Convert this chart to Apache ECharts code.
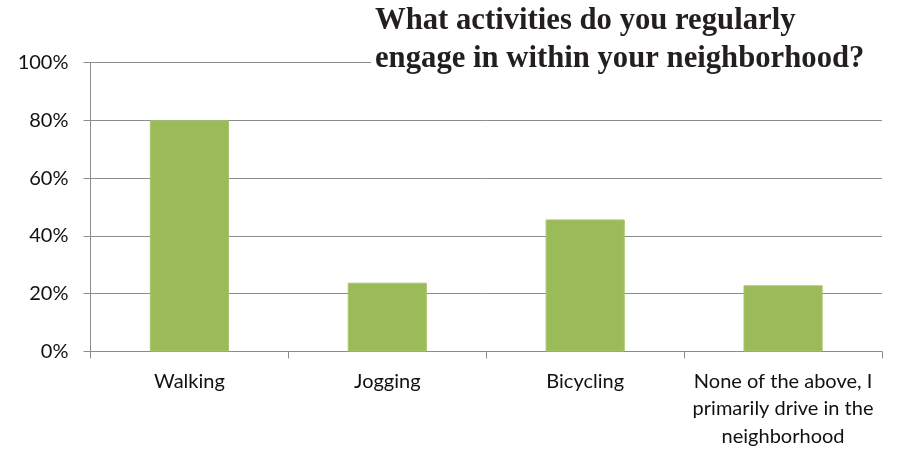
<!DOCTYPE html>
<html>
<head>
<meta charset="utf-8">
<script src="https://cdn.jsdelivr.net/npm/echarts@6/dist/echarts.min.js"></script>
<style>html,body{margin:0;padding:0;background:#fff}#c{width:899px;height:452px}</style>
</head>
<body>
<div id="c"></div>
<script>
const titleText = "What activities do you regularly\nengage in within your neighborhood?";
const categories = ["Walking", "Jogging", "Bicycling", "None of the above, I\nprimarily drive in the\nneighborhood"];
const values = [80, 23.8, 45.7, 22.9];
const yTicks = [0, 20, 40, 60, 80, 100];

const chart = echarts.init(document.getElementById('c'));
chart.setOption({
  animation: false,
  backgroundColor: '#fff',
  title: {
    text: titleText,
    left: 371, top: 0,
    padding: [2, 120, 4, 4],
    backgroundColor: '#fff',
    textStyle: {fontFamily: 'Liberation Serif', fontWeight: 'bold', fontSize: 30.7, lineHeight: 38, color: '#231f20'}
  },
  grid: {left: 90.5, right: 17, top: 62.5, bottom: 100.5, containLabel: false},
  xAxis: {
    type: 'category', data: categories,
    axisLine: {lineStyle: {color: '#8c8c8c', width: 1}},
    axisTick: {show: true, length: 7, alignWithLabel: false, lineStyle: {color: '#8c8c8c'}},
    axisLabel: {margin: 16, fontFamily: 'Lato', fontSize: 20, lineHeight: 27.5, color: '#111', interval: 0}
  },
  yAxis: {
    type: 'value', min: yTicks[0], max: yTicks[yTicks.length-1], interval: 20,
    axisLine: {show: true, lineStyle: {color: '#8c8c8c', width: 1}},
    axisTick: {show: true, length: 7, lineStyle: {color: '#8c8c8c'}},
    splitLine: {show: true, lineStyle: {color: '#8c8c8c', width: 1}},
    axisLabel: {margin: 22, fontFamily: 'Lato', fontSize: 20, color: '#111', formatter: v => v + '%'}
  },
  series: [{
    type: 'bar', data: values, barWidth: '40%',
    itemStyle: {color: '#9bbb59', borderColor: '#a9c56f', borderWidth: 1}
  }]
});
</script>
</body>
</html>
